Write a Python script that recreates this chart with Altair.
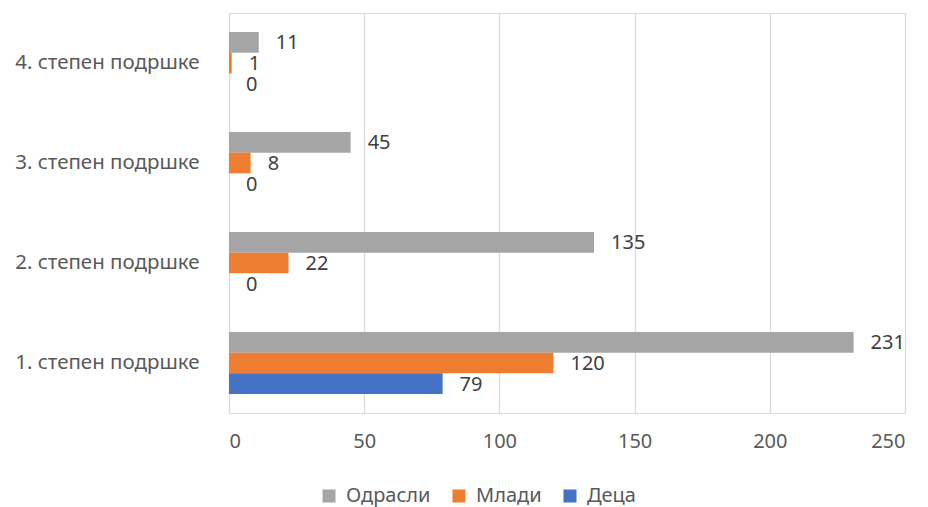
import altair as alt
import pandas as pd

categories = ["1. степен подршке", "2. степен подршке", "3. степен подршке", "4. степен подршке"]
series = ["Одрасли", "Млади", "Деца"]
odrasli = [231, 135, 45, 11]
mladi = [120, 22, 8, 1]
deca = [79, 0, 0, 0]
colors = ["#A5A5A5", "#ED7D31", "#4472C4"]
x_ticks = [0, 50, 100, 150, 200, 250]

rows = []
for i, c in enumerate(categories):
    for s, vals in zip(series, [odrasli, mladi, deca]):
        rows.append({"cat": c, "series": s, "value": vals[i]})
df = pd.DataFrame(rows)

y_order = list(reversed(categories))
FONT = "Noto Sans"

y_enc = alt.Y("cat:N", sort=y_order,
              scale=alt.Scale(paddingInner=0.38, paddingOuter=0.19),
              axis=alt.Axis(title=None, domain=False, ticks=False, labelPadding=30,
                            labelFontSize=20.5, labelColor="#595959", labelFont=FONT,
                            labelLimit=400, grid=False))
yoff = alt.YOffset("series:N", sort=series, scale=alt.Scale(paddingInner=0, paddingOuter=0))
x_enc = alt.X("value:Q", scale=alt.Scale(domain=[0, 250], nice=False),
              axis=alt.Axis(title=None, values=x_ticks, domain=False, ticks=False,
                            labelPadding=18, labelFontSize=20, labelColor="#595959",
                            labelFont=FONT, gridColor="#D9D9D9", gridWidth=1.3))

bars = alt.Chart(df).mark_bar(size=20.7).encode(
    x=x_enc,
    y=y_enc,
    yOffset=yoff,
    color=alt.Color("series:N", sort=series,
                    scale=alt.Scale(domain=series, range=colors),
                    legend=alt.Legend(title=None, orient="none", direction="horizontal",
                                      legendX=90, legendY=473, columns=3, columnPadding=18,
                                      symbolType="square", symbolSize=170, symbolStrokeWidth=0,
                                      labelFontSize=20, labelColor="#595959", labelFont=FONT,
                                      labelOffset=7)),
)

labels = alt.Chart(df).mark_text(align="left", baseline="middle", dx=17, dy=1,
                                 fontSize=20, color="#404040", font=FONT).encode(
    x="value:Q",
    y=alt.Y("cat:N", sort=y_order),
    yOffset=alt.YOffset("series:N", sort=series),
    text="value:Q",
)

chart = (bars + labels).properties(
    width=676, height=400,
    autosize=alt.AutoSizeParams(type="none"),
    padding={"left": 221, "top": 5, "right": 15, "bottom": 94},
).configure_view(stroke=None).configure(background="white")

chart.save("out.html", embed_options={"renderer": "svg", "actions": False})
